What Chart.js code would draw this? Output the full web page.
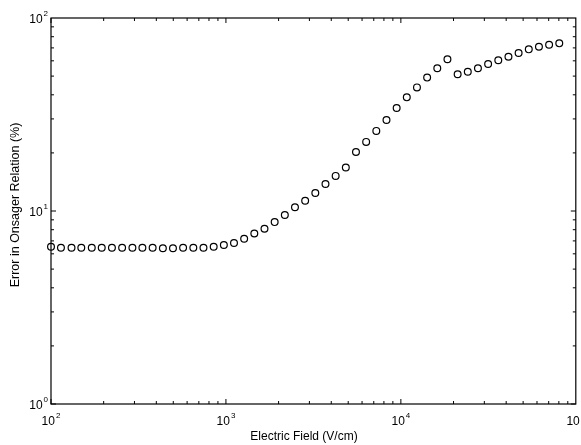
<!DOCTYPE html>
<html>
<head>
<meta charset="utf-8">
<script src="https://cdn.jsdelivr.net/npm/chart.js@4"></script>
<style>
  html, body { margin: 0; padding: 0; background: #fff; }
</style>
</head>
<body>
<canvas id="chart" width="581" height="445"></canvas>
<script>
// electric field (V/cm)
const fieldValues = [
  100, 114, 131, 149, 171, 195, 223, 255, 292, 333,
  381, 436, 498, 569, 651, 744, 851, 973, 1112, 1271,
  1453, 1661, 1899, 2171, 2481, 2837, 3243, 3707, 4238, 4845,
  5539, 6332, 7238, 8275, 9460, 10810, 12360, 14130, 16150, 18460,
  21110, 24130, 27580, 31530, 36050, 41210, 47100, 53850, 61560, 70370,
  80450
];
// error in Onsager relation (%)
const errorValues = [
  6.53, 6.45, 6.45, 6.45, 6.45, 6.45, 6.45, 6.45, 6.45, 6.45,
  6.45, 6.41, 6.41, 6.45, 6.45, 6.45, 6.53, 6.66, 6.83, 7.18,
  7.64, 8.09, 8.76, 9.54, 10.45, 11.3, 12.4, 13.8, 15.2, 16.8,
  20.2, 22.8, 26.0, 29.6, 34.2, 38.8, 43.7, 49.1, 54.9, 61.1,
  51.1, 52.7, 54.9, 57.8, 60.4, 63.0, 65.9, 68.8, 71.0, 72.7,
  73.9
];
const xDecades = [2, 3, 4, 5];
const yDecades = [0, 1, 2];
const xTitle = 'Electric Field (V/cm)';
const yTitle = 'Error in Onsager Relation (%)';

const points = fieldValues.map((x, i) => ({ x: x, y: errorValues[i] }));

function drawPower(ctx, exp, x, y, align) {
  ctx.font = '12px "Liberation Sans", Arial, sans-serif';
  const w1 = ctx.measureText('10').width;
  ctx.font = '8px "Liberation Sans", Arial, sans-serif';
  const w2 = ctx.measureText(String(exp)).width;
  const total = w1 + 1 + w2;
  let start = align === 'right' ? x - total : x - total / 2;
  ctx.textAlign = 'left';
  ctx.textBaseline = 'middle';
  ctx.font = '12px "Liberation Sans", Arial, sans-serif';
  ctx.fillText('10', start, y);
  ctx.font = '8px "Liberation Sans", Arial, sans-serif';
  ctx.fillText(String(exp), start + w1 + 1, y - 6);
}

const framePlugin = {
  id: 'frame',
  afterDraw(chart) {
    const ctx = chart.ctx;
    const a = chart.chartArea;
    const xs = chart.scales.x;
    const ys = chart.scales.y;
    ctx.save();
    ctx.strokeStyle = '#000';
    ctx.fillStyle = '#000';
    ctx.lineWidth = 1.2;
    ctx.strokeRect(a.left, a.top, a.right - a.left, a.bottom - a.top);

    ctx.lineWidth = 1;
    ctx.beginPath();
    for (let d = xDecades[0]; d < xDecades[xDecades.length - 1]; d++) {
      for (let m = 1; m <= 9; m++) {
        const px = xs.getPixelForValue(m * Math.pow(10, d));
        const len = m === 1 ? 5 : 3;
        ctx.moveTo(px, a.bottom); ctx.lineTo(px, a.bottom - len);
        ctx.moveTo(px, a.top); ctx.lineTo(px, a.top + len);
      }
    }
    for (let d = yDecades[0]; d < yDecades[yDecades.length - 1]; d++) {
      for (let m = 1; m <= 9; m++) {
        const py = ys.getPixelForValue(m * Math.pow(10, d));
        const len = m === 1 ? 5 : 3;
        ctx.moveTo(a.left, py); ctx.lineTo(a.left + len, py);
        ctx.moveTo(a.right, py); ctx.lineTo(a.right - len, py);
      }
    }
    ctx.stroke();

    xDecades.forEach(d => {
      drawPower(ctx, d, xs.getPixelForValue(Math.pow(10, d)), a.bottom + 18, 'center');
    });
    yDecades.forEach(d => {
      drawPower(ctx, d, a.left - 3, ys.getPixelForValue(Math.pow(10, d)) + 2, 'right');
    });

    ctx.font = '12px "Liberation Sans", Arial, sans-serif';
    ctx.textAlign = 'center';
    ctx.textBaseline = 'middle';
    ctx.fillText(xTitle, 304, 437);
    ctx.translate(16, 205);
    ctx.rotate(-Math.PI / 2);
    ctx.font = '12.5px "Liberation Sans", Arial, sans-serif';
    ctx.fillText(yTitle, 0, 0);
    ctx.restore();
  }
};

new Chart(document.getElementById('chart'), {
  type: 'scatter',
  data: {
    datasets: [{
      data: points,
      pointStyle: 'circle',
      pointRadius: 3.4,
      pointBorderWidth: 1.2,
      borderColor: '#000',
      backgroundColor: 'rgba(0,0,0,0)',
      clip: false
    }]
  },
  options: {
    responsive: false,
    animation: false,
    layout: { padding: { left: 51, top: 18, right: 5, bottom: 41 } },
    plugins: { legend: { display: false }, tooltip: { enabled: false } },
    scales: {
      x: { type: 'logarithmic', min: 100, max: 100000, display: false },
      y: { type: 'logarithmic', min: 1, max: 100, display: false }
    }
  },
  plugins: [framePlugin]
});
</script>
</body>
</html>
